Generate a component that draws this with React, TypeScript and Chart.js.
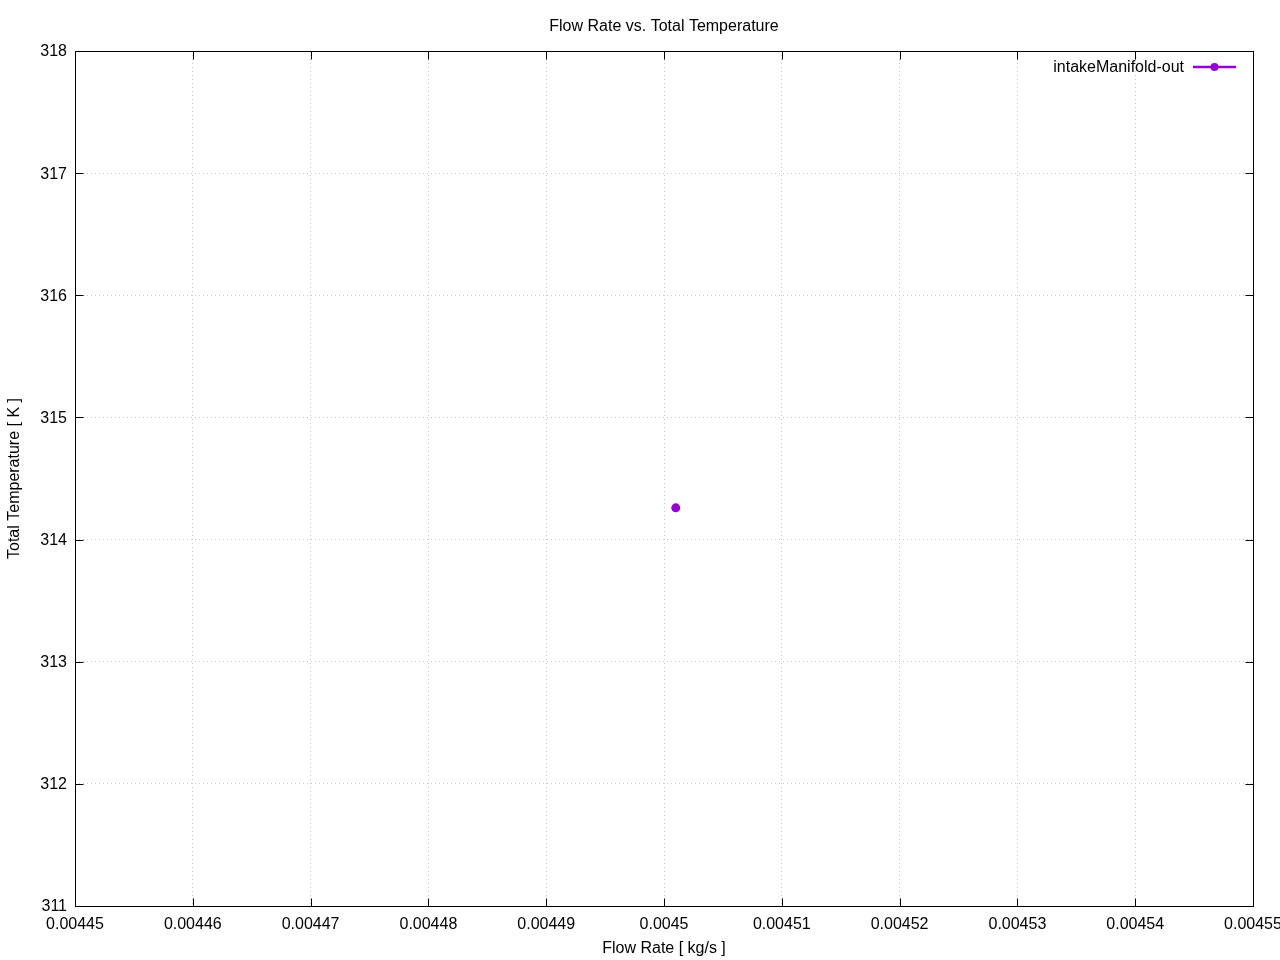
import React, { useEffect, useRef } from "react";
import { Chart, registerables } from "chart.js";

Chart.register(...registerables);

const chartTitle = "Flow Rate vs. Total Temperature";
const xTitle = "Flow Rate [ kg/s ]";
const yTitle = "Total Temperature [ K ]";
const seriesLabel = "intakeManifold-out";
const flowRates = [0.004501];
const temperatures = [314.26];
const xMin = 0.00445;
const xMax = 0.00455;
const xStep = 0.00001;
const yMin = 311;
const yMax = 318;
const yStep = 1;

const FONT = "'Liberation Sans', Arial, sans-serif";
const FS = 16;
const COLOR = "#9400d3";

const framePlugin = {
  id: "frame",
  afterDatasetsDraw(chart: any) {
    const { ctx, chartArea: a, scales } = chart;
    const L = Math.round(a.left) + 0.5;
    const R = Math.round(a.right) + 0.5;
    const T = Math.round(a.top) + 0.5;
    const B = Math.round(a.bottom) + 0.5;
    ctx.save();
    ctx.strokeStyle = "#000";
    ctx.lineWidth = 1;
    ctx.strokeRect(L, T, R - L, B - T);
    const tl = 8;
    ctx.beginPath();
    scales.x.ticks.forEach((t: any) => {
      const px = Math.round(scales.x.getPixelForValue(t.value)) + 0.5;
      ctx.moveTo(px, B);
      ctx.lineTo(px, B - tl);
      ctx.moveTo(px, T);
      ctx.lineTo(px, T + tl);
    });
    scales.y.ticks.forEach((t: any) => {
      const py = Math.round(scales.y.getPixelForValue(t.value)) + 0.5;
      ctx.moveTo(L, py);
      ctx.lineTo(L + tl, py);
      ctx.moveTo(R, py);
      ctx.lineTo(R - tl, py);
    });
    ctx.stroke();

    // legend (gnuplot style, inside top-right)
    const ds = chart.data.datasets[0];
    const ly = a.top + 16;
    const lineRight = a.right - 17;
    const lineLeft = lineRight - 43;
    ctx.font = `${FS}px ${FONT}`;
    ctx.fillStyle = "#000";
    ctx.textAlign = "right";
    ctx.textBaseline = "middle";
    ctx.fillText(ds.label, lineLeft - 9, ly + 1);
    ctx.strokeStyle = COLOR;
    ctx.lineWidth = 2.5;
    ctx.beginPath();
    ctx.moveTo(lineLeft, ly);
    ctx.lineTo(lineRight, ly);
    ctx.stroke();
    ctx.fillStyle = COLOR;
    ctx.beginPath();
    ctx.arc((lineLeft + lineRight) / 2, ly, 4, 0, Math.PI * 2);
    ctx.fill();
    ctx.restore();
  },
};

export default function App() {
  const ref = useRef<HTMLCanvasElement>(null);
  useEffect(() => {
    document.body.style.margin = "0";
    const canvas = ref.current!;
    const chart = new Chart(canvas, {
      type: "scatter",
      data: {
        datasets: [
          {
            label: seriesLabel,
            data: flowRates.map((x, i) => ({ x, y: temperatures[i] })),
            borderColor: COLOR,
            backgroundColor: COLOR,
            pointRadius: 4.5,
            pointHoverRadius: 4.5,
            borderWidth: 0,
            showLine: true,
          },
        ],
      },
      options: {
        responsive: false,
        animation: false,
        devicePixelRatio: 1,
        layout: { padding: { left: 0, right: 27, top: 0, bottom: 0 } },
        plugins: {
          legend: { display: false },
          tooltip: { enabled: false },
          title: {
            display: true,
            text: chartTitle,
            fullSize: false,
            color: "#000",
            font: { family: FONT, size: FS, weight: "normal" },
            padding: { top: 16.5, bottom: 15.3 },
          },
        },
        scales: {
          x: {
            type: "linear",
            min: xMin,
            max: xMax,
            afterFit(s: any) {
              s.height = 54;
              s.paddingLeft = 0;
              s.paddingRight = 0;
            },
            ticks: {
              stepSize: xStep,
              autoSkip: false,
              maxRotation: 0,
              minRotation: 0,
              padding: 9,
              color: "#000",
              font: { family: FONT, size: FS },
              callback: (v: any) => String(Number(Number(v).toFixed(5))),
            },
            grid: { color: "#c8c8c8", drawTicks: false, lineWidth: 1 },
            border: { display: false, dash: [1, 3] },
            title: {
              display: true,
              text: xTitle,
              color: "#000",
              font: { family: FONT, size: FS },
              padding: { top: 0, bottom: 1.4 },
            },
          },
          y: {
            type: "linear",
            min: yMin,
            max: yMax,
            afterFit(s: any) {
              s.width = 75;
              s.paddingTop = 0;
              s.paddingBottom = 0;
            },
            ticks: {
              stepSize: yStep,
              padding: 8,
              labelOffset: 1,
              color: "#000",
              font: { family: FONT, size: FS },
            },
            grid: { color: "#c8c8c8", drawTicks: false, lineWidth: 1 },
            border: { display: false, dash: [1, 3] },
            title: {
              display: true,
              text: yTitle,
              color: "#000",
              font: { family: FONT, size: FS },
              padding: { top: 5.4, bottom: 0 },
            },
          },
        },
      },
      plugins: [framePlugin],
    });
    return () => chart.destroy();
  }, []);
  return (
    <div style={{ width: 1280, height: 960, background: "#fff" }}>
      <canvas ref={ref} width={1280} height={960} style={{ display: "block", width: 1280, height: 960 }} />
    </div>
  );
}
